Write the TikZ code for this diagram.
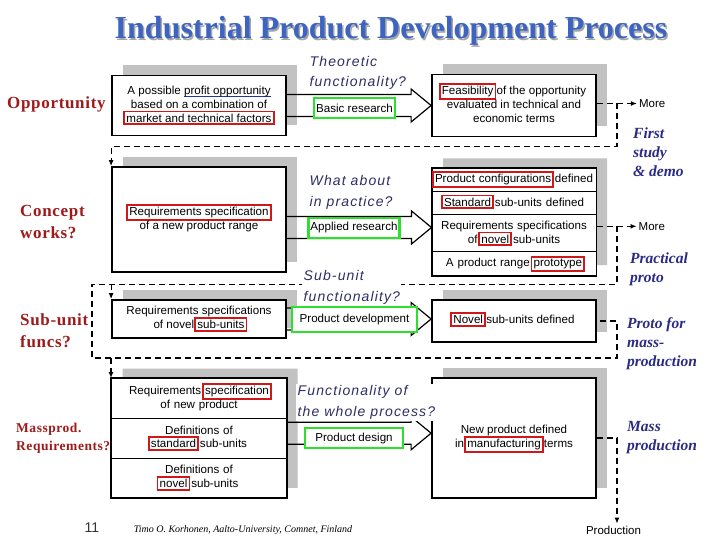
\documentclass[tikz,border=0pt]{standalone}
\usepackage{fontspec}
\setmainfont{Liberation Serif}
\setsansfont{Liberation Sans}
\newfontfamily\askfont[LetterSpace=8]{Liberation Sans}
\newfontfamily\stagefont[LetterSpace=4]{Liberation Serif}
\usepackage{tikz}
\usetikzlibrary{arrows.meta,positioning,calc,shadows,shapes.multipart}
\definecolor{titleblue}{HTML}{3C64C0}
\definecolor{stagered}{HTML}{9E1A1A}
\definecolor{asknavy}{HTML}{2E2E66}
\definecolor{notenavy}{HTML}{2B2B85}
\definecolor{hlred}{HTML}{D01818}
\definecolor{hlgreen}{HTML}{2EE02E}
\definecolor{ulblue}{HTML}{2533A8}
\definecolor{shadegray}{HTML}{C2C2C2}
\newsavebox\ulbox
\newcommand\hl[1]{\smash{\fboxrule=1.8pt\fboxsep=1.2pt\kern-3pt{\color{hlred}\fbox{\color{black}#1}}\kern-3pt}}
\newcommand\blueul[1]{\sbox\ulbox{#1}\rlap{\color{ulblue}\rule[-2.8pt]{\wd\ulbox}{1.6pt}}\usebox\ulbox}
\newcommand\shadowed[1]{\rlap{\kern1.5pt\raisebox{-1.5pt}{\color{black!35}#1}}#1}
\tikzset{
  stage/.style={anchor=west, align=left, text=stagered, inner sep=0pt, font=\stagefont\bfseries\fontsize{17}{21.5}\selectfont},
  ask/.style={anchor=west, align=left, text=asknavy, fill=white, inner sep=1.5pt, font=\askfont\itshape\fontsize{14}{20.5}\selectfont},
  note/.style={anchor=west, align=left, text=notenavy, inner sep=0pt, font=\bfseries\itshape\fontsize{15.5}{19}\selectfont},
  box/.style={draw, fill=white, line width=1.8pt, align=center, inner sep=2pt, font=\sffamily\fontsize{11.6}{13.8}\selectfont, drop shadow={shadow xshift=11pt, shadow yshift=10pt, fill=shadegray, opacity=1}},
  rowbox/.style={box, line width=1pt, rectangle split, rectangle split draw splits=true, inner xsep=2.5pt},
  frame/.style={line width=1.8pt},
  research/.style={draw=hlgreen, fill=white, line width=2.4pt, inner sep=2pt, minimum height=20pt, font=\sffamily\fontsize{11.6}{13.8}\selectfont},
  bigarrow/.style={line width=1.2pt, to path={([yshift=11pt]\tikztostart) -- ([xshift=-20pt,yshift=11pt]\tikztotarget) -- ([xshift=-20pt,yshift=16.5pt]\tikztotarget) -- (\tikztotarget) -- ([xshift=-20pt,yshift=-16.5pt]\tikztotarget) -- ([xshift=-20pt,yshift=-11pt]\tikztotarget) -- ([yshift=-11pt]\tikztostart)}},
  dashline/.style={dash pattern=on 6pt off 4pt, line width=1.1pt},
  dasharrow/.style={dashline, -{Latex[length=6pt,width=5pt]}},
  small/.style={font=\sffamily\fontsize{11.5}{13.5}\selectfont, inner sep=2pt}
}
\begin{document}
\begin{tikzpicture}[x=1pt,y=-1pt]
  \useasboundingbox (0,0) rectangle (720,540);
  \node[font=\bfseries\fontsize{32}{36}\selectfont, text=titleblue] (title) at (391,32) {\shadowed{Industrial Product Development Process}};

  % process boxes
  \node[box, minimum width=174pt, minimum height=60pt] (opp) at (199,105.5) {\strut A possible \blueul{profit opportunity}\\based on a combination of\\\hl{market and technical factors}\strut};
  \node[box, minimum width=164pt, minimum height=62pt] (feas) at (514,105.5) {\strut\hl{Feasibility} of the opportunity\\evaluated in technical and\\economic terms\strut};
  \node[box, minimum width=174pt, minimum height=105pt] (req) at (199,219.5) {\strut\hl{Requirements specification}\\of a new product range\strut};
  \node[rowbox, rectangle split parts=4, text width=159pt, inner ysep=4.2pt, anchor=north] (cfg) at (514,168) {\strut\hl{Product configurations} defined\nodepart{two}\strut\hl{Standard} sub-units defined\nodepart{three}\strut Requirements specifications\\of \hl{novel} sub-units\strut\nodepart{four}\strut A product range \hl{prototype}};
  \draw[frame] (cfg.north west) rectangle (cfg.south east);
  \node[box, minimum width=174pt, minimum height=38pt] (subreq) at (199,319) {\strut Requirements specifications\\of novel \hl{sub-units}\strut};
  \node[box, minimum width=164pt, minimum height=42pt] (novel) at (514,321) {\strut\hl{Novel} sub-units defined};
  \node[rowbox, rectangle split parts=3, text width=170pt, inner ysep=5.6pt, anchor=north] (spec) at (199,378) {\strut Requirements \hl{specification}\\of new product\strut\nodepart{two}\strut Definitions of\\\hl{standard} sub-units\strut\nodepart{three}\strut Definitions of\\\hl{novel} sub-units\strut};
  \draw[frame] (spec.north west) rectangle (spec.south east);
  \node[box, minimum width=164pt, minimum height=120pt] (mfg) at (514,438) {\strut New product defined\\in \hl{manufacturing} terms\strut};

  % hollow arrows
  \coordinate (a2s) at ([yshift=-8pt]req.east);
  \coordinate (a2t) at (a2s -| cfg.west);
  \coordinate (a3t) at (subreq.east -| novel.west);
  \coordinate (a4s) at ([yshift=5pt]spec.east);
  \coordinate (a4t) at (a4s -| mfg.west);
  \draw[bigarrow] (opp.east) to (feas.west);
  \draw[bigarrow] (a2s) to (a2t);
  \draw[bigarrow] (subreq.east) to (a3t);
  \draw[bigarrow] (a4s) to (a4t);
  \node[research] (basic) at (354.5,108) {Basic research};
  \node[research] (applied) at (354,228) {Applied research};
  \node[research, minimum width=125pt, minimum height=25pt] (devel) at (354.5,319.5) {Product development};
  \node[research, minimum width=98pt, anchor=north] (design) at (354,427) {Product design};

  % dashed feedback
  \coordinate (trunk) at (617,0);
  \coordinate (loopl) at (92,0);
  \node[small, right=40pt of feas, yshift=2pt] (more1) {More};
  \node[small, right=40pt of cfg, yshift=-4.5pt] (more2) {More};
  \node[small] (prod) at (613.5,530) {Production};
  \coordinate (r2) at ([yshift=15pt]subreq.north west);
  \coordinate (r3) at ([yshift=20pt]spec.north west);
  \draw[dasharrow] (more1.west -| feas.east) -- (more1.west);
  \draw[dasharrow] (more1.west -| trunk) |- ([yshift=20pt]req.north west) -- (req.north west);
  \draw[dasharrow] (more2.west -| cfg.east) -- (more2.west);
  \draw[dashline] (more2.west -| trunk) |- (r2 -| loopl) |- (r3 -| trunk) |- (novel.east);
  \draw[dasharrow] (r2) -- (subreq.north west);
  \draw[dasharrow] (r3) -- (spec.north west);
  \draw[dasharrow] (mfg.east) -- (mfg.east -| trunk) -- (trunk |- prod.north);

  % questions
  \node[ask] (q1) at (308,73) {Theoretic\\functionality?};
  \node[ask] (q2) at (308,192.5) {What about\\in practice?};
  \node[ask] (q3) at (302,287.5) {Sub-unit\\functionality?};
  \node[ask] (q4) at (296,402.5) {Functionality of\\the whole process?};

  % stages
  \node[stage] (s1) at (7,104) {Opportunity};
  \node[stage] (s2) at (20,222) {Concept\\works?};
  \node[stage] (s3) at (20,330.5) {Sub-unit\\funcs?};
  \node[stage, font=\stagefont\bfseries\fontsize{13.5}{18}\selectfont] (s4) at (16,438) {Massprod.\\Requirements?};
  \node[note] (n1) at (633,152) {First\\study\\\& demo};
  \node[note] (n2) at (630,269.5) {Practical\\proto};
  \node[note] (n3) at (627,344) {Proto for\\mass-\\production};
  \node[note] (n4) at (627,437.5) {Mass\\production};

  % footer
  \node[font=\sffamily\fontsize{14}{16}\selectfont, text=black!80] (page) at (92,528) {11};
  \node[font=\itshape\fontsize{10}{12}\selectfont] (credit) at (243,530) {Timo O. Korhonen, Aalto-University, Comnet, Finland};
\end{tikzpicture}
\end{document}
